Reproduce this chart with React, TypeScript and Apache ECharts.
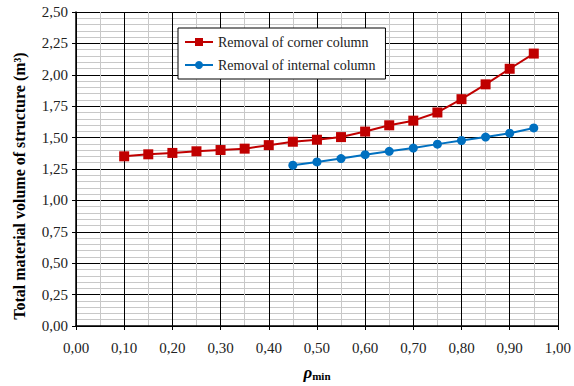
import React, { useEffect, useRef } from "react";
import * as echarts from "echarts";

const rhoMin = [0.1, 0.15, 0.2, 0.25, 0.3, 0.35, 0.4, 0.45, 0.5, 0.55, 0.6, 0.65, 0.7, 0.75, 0.8, 0.85, 0.9, 0.95];
const cornerVolume = [1.351, 1.367, 1.378, 1.391, 1.401, 1.412, 1.44, 1.467, 1.483, 1.504, 1.548, 1.598, 1.635, 1.7, 1.806, 1.924, 2.048, 2.169];
const rhoInternal = [0.45, 0.5, 0.55, 0.6, 0.65, 0.7, 0.75, 0.8, 0.85, 0.9, 0.95];
const internalVolume = [1.28, 1.306, 1.333, 1.364, 1.391, 1.417, 1.448, 1.477, 1.504, 1.535, 1.577];
const seriesNames = ["Removal of corner column", "Removal of internal column"];
const yTitle = "Total material volume of structure (m³)";

const FONT = "Liberation Serif";
const fmt = (v: number) => v.toFixed(2).replace(".", ",");

export default function App() {
  const ref = useRef<HTMLDivElement>(null);
  useEffect(() => {
    if (!ref.current) return;
    const chart = echarts.init(ref.current, null, { renderer: "svg" });
    chart.setOption({
      animation: false,
      textStyle: { fontFamily: FONT },
      grid: { left: 76, right: 7, top: 12, bottom: 57, containLabel: false },
      graphic: [
        {
          type: "text",
          x: 19,
          y: 186,
          rotation: Math.PI / 2,
          style: {
            text: yTitle,
            fontFamily: FONT,
            fontSize: 16,
            fontWeight: "bold",
            fill: "#000",
            align: "center",
            verticalAlign: "middle",
          },
        },
      ],
      legend: {
        orient: "vertical",
        left: 178,
        top: 28,
        itemWidth: 28,
        itemHeight: 10,
        itemGap: 9,
        padding: [7, 10, 7, 6],
        backgroundColor: "#fff",
        borderColor: "#000",
        borderWidth: 1,
        textStyle: { fontFamily: FONT, fontSize: 14, color: "#222" },
        data: seriesNames,
      },
      xAxis: {
        type: "value",
        min: 0,
        max: 1,
        interval: 0.1,
        name: "{r|ρ}{s|min}",
        nameLocation: "middle",
        nameGap: 37,
        nameTextStyle: {
          rich: {
            r: { fontFamily: FONT, fontSize: 17, fontWeight: "bold", fontStyle: "italic", color: "#000" },
            s: { fontFamily: FONT, fontSize: 11, fontWeight: "bold", color: "#000", padding: [7, 0, 0, 0] },
          },
        },
        axisLine: { show: true, lineStyle: { color: "#000", width: 1.5 } },
        axisTick: { show: true, length: 4, lineStyle: { color: "#000" } },
        axisLabel: { formatter: fmt, fontFamily: FONT, fontSize: 15, color: "#222", margin: 14 },
        splitLine: { show: true, lineStyle: { color: "#000", width: 1 } },
        minorTick: { show: false, splitNumber: 2 },
        minorSplitLine: { show: true, lineStyle: { color: "#c8c8c8", width: 1 } },
      },
      yAxis: {
        type: "value",
        min: 0,
        max: 2.5,
        interval: 0.25,
        axisLine: { show: true, lineStyle: { color: "#000", width: 1.5 } },
        axisTick: { show: true, length: 4, lineStyle: { color: "#000" } },
        axisLabel: { formatter: fmt, fontFamily: FONT, fontSize: 15, color: "#222", margin: 8 },
        splitLine: { show: true, lineStyle: { color: "#000", width: 1 } },
        minorTick: { show: false, splitNumber: 5 },
        minorSplitLine: { show: true, lineStyle: { color: "#c8c8c8", width: 1 } },
      },
      series: [
        {
          name: seriesNames[0],
          type: "line",
          data: rhoMin.map((x, i) => [x, cornerVolume[i]]),
          symbol: "rect",
          symbolSize: 10,
          itemStyle: { color: "#C00000" },
          lineStyle: { color: "#C00000", width: 2 },
          z: 3,
        },
        {
          name: seriesNames[1],
          type: "line",
          data: rhoInternal.map((x, i) => [x, internalVolume[i]]),
          symbol: "circle",
          symbolSize: 9,
          itemStyle: { color: "#0070C0" },
          lineStyle: { color: "#0070C0", width: 2 },
          z: 3,
        },
      ],
    });
    return () => chart.dispose();
  }, []);
  return <div ref={ref} style={{ width: 574, height: 386, position: "absolute", left: 0, top: 0 }} />;
}
